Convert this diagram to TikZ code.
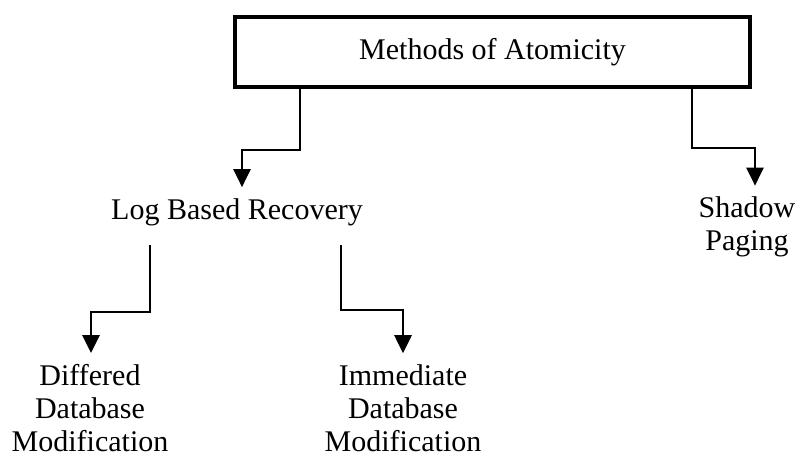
\documentclass[tikz,border=0pt]{standalone}
\usepackage{fontspec}
\setmainfont{Liberation Serif}
\usetikzlibrary{arrows.meta, positioning, calc}
\tikzset{
    base/.style={align=center, font=\fontsize{30}{33}\selectfont, inner xsep=4pt, inner ysep=11pt},
    titlebox/.style={base, draw, line width=3.2pt, rectangle, minimum width=515pt, minimum height=70pt},
    item/.style={base},
    arrow/.style={-{Triangle[length=18pt,width=17pt]}, line width=2.6pt, draw=black}
}

\begin{document}
\begin{tikzpicture}[x=1pt, y=1pt]
    \useasboundingbox (0,0) rectangle (801,-460);
    \node (methods) [titlebox] at (492.5,-52) {Methods of Atomicity};
    \node (logrec) [item] at (237,-212) {Log Based Recovery};
    \node (shadow) [item] at (747,-227) {Shadow\\Paging};
    \node (differed) [item] at (90,-408) {Differed\\Database\\Modification};
    \node (immediate) [item] at (403,-408) {Immediate\\Database\\Modification};

    \draw [arrow] (methods.south -| 300,0) |- (271,-150) -| (logrec.north -| 242,0);
    \draw [arrow] (methods.south -| 692,0) |- (723,-148) -| (shadow.north -| 755,0);
    \draw [arrow, shorten <=8pt] (logrec.south -| 150,0) |- (120,-312) -| (differed.north -| 91,0);
    \draw [arrow, shorten <=8pt] (logrec.south -| 341,0) |- (372,-310) -| (immediate.north -| 403,0);
\end{tikzpicture}
\end{document}
